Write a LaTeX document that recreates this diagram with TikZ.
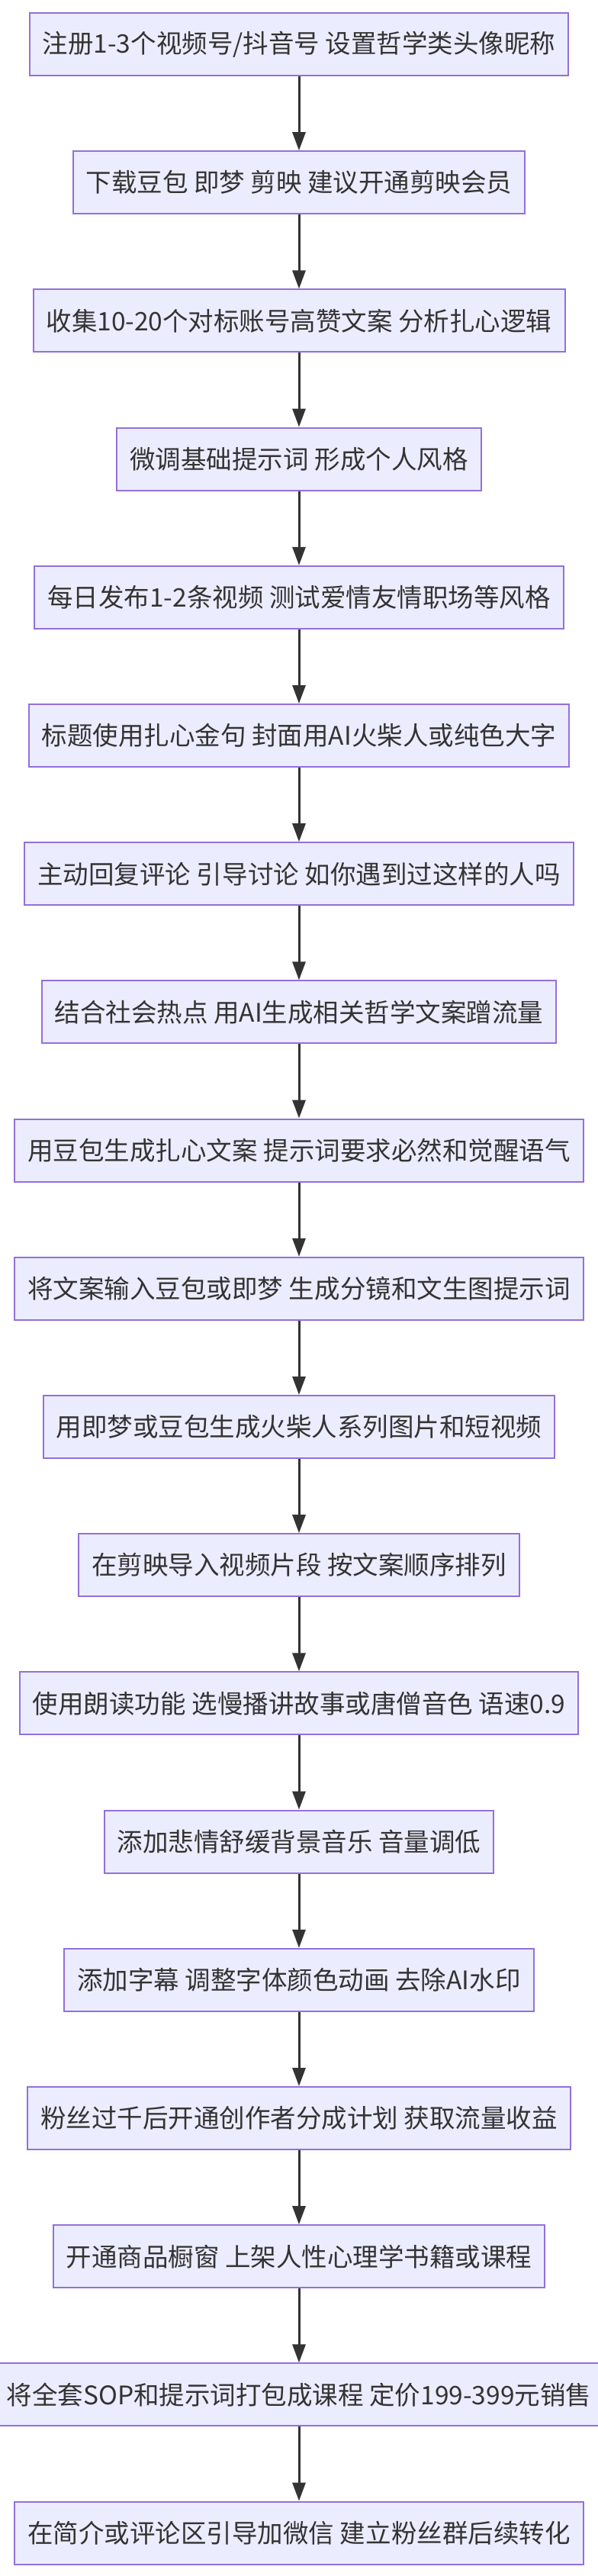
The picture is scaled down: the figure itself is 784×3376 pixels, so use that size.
\documentclass[tikz,border=0pt]{standalone}
\usepackage{fontspec}
\setmainfont{Noto Sans CJK SC}
\usetikzlibrary{arrows.meta}
\definecolor{boxfill}{HTML}{ECECFF}
\definecolor{boxline}{HTML}{9370DB}
\definecolor{ink}{HTML}{333333}
\begin{document}
\begin{tikzpicture}[x=1pt,y=1pt,
  box/.style={draw=boxline,fill=boxfill,line width=2pt,minimum height=82pt,inner xsep=17pt,inner ysep=0pt,text=ink,font=\fontsize{33.5}{38}\selectfont},
  arr/.style={draw=ink,line width=3pt,-{Triangle[length=24pt,width=17pt]}}]
\useasboundingbox (0,0) rectangle (784,-3376);
\fill[white] (0,0) rectangle (784,-3376);
\foreach \t [count=\i from 0] in {
注册1-3个视频号/抖音号 设置哲学类头像昵称,
下载豆包 即梦 剪映 建议开通剪映会员,
收集10-20个对标账号高赞文案 分析扎心逻辑,
微调基础提示词 形成个人风格,
每日发布1-2条视频 测试爱情友情职场等风格,
标题使用扎心金句 封面用AI火柴人或纯色大字,
主动回复评论 引导讨论 如你遇到过这样的人吗,
结合社会热点 用AI生成相关哲学文案蹭流量,
用豆包生成扎心文案 提示词要求必然和觉醒语气,
将文案输入豆包或即梦 生成分镜和文生图提示词,
用即梦或豆包生成火柴人系列图片和短视频,
在剪映导入视频片段 按文案顺序排列,
使用朗读功能 选慢播讲故事或唐僧音色 语速0.9,
添加悲情舒缓背景音乐 音量调低,
添加字幕 调整字体颜色动画 去除AI水印,
粉丝过千后开通创作者分成计划 获取流量收益,
开通商品橱窗 上架人性心理学书籍或课程,
将全套SOP和提示词打包成课程 定价199-399元销售,
在简介或评论区引导加微信 建立粉丝群后续转化}
{
  \node[box] (n\i) at (392,{-(17+41+181.2*\i)}) {\t};
}
\foreach \i [evaluate=\i as \j using int(\i+1)] in {0,...,17}
  \draw[arr] (n\i.south) -- (n\j.north);
\end{tikzpicture}
\end{document}
